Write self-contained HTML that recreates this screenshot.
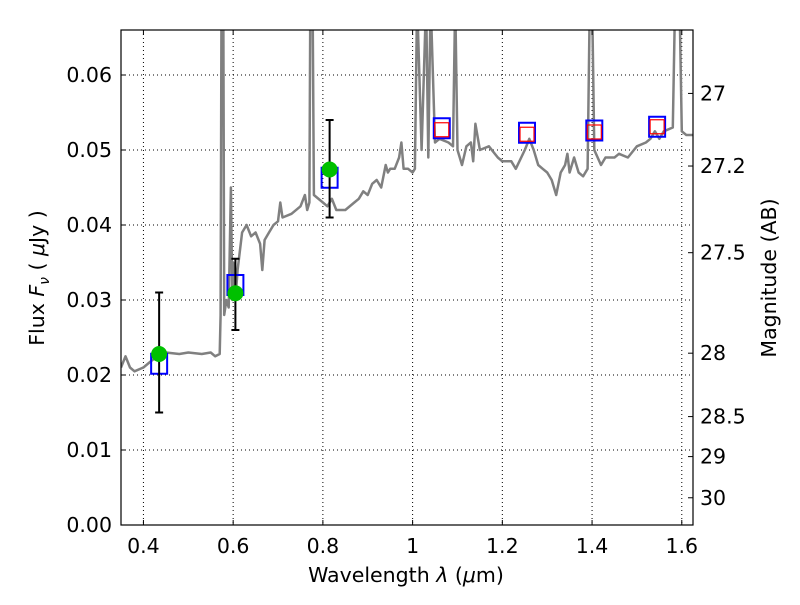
<!DOCTYPE html>
<html><head><meta charset="utf-8"><style>
body{margin:0;background:#fff;}
svg text{font-family:"DejaVu Sans","Liberation Sans",sans-serif;font-size:20.5px;fill:#000;}
</style></head><body>
<svg id="chart" width="800" height="600" xmlns="http://www.w3.org/2000/svg">
<defs><clipPath id="clip"><rect x="121" y="30" width="572" height="495"/></clipPath></defs>
<g id="grid"></g>
<g id="spec" clip-path="url(#clip)"></g>
<g id="marks" clip-path="url(#clip)"></g>
<rect x="121" y="30" width="572" height="495" fill="none" stroke="#000" stroke-width="1.2"/>
<g id="axes"></g>
<text x="406" y="582" text-anchor="middle">Wavelength  <tspan font-style="italic">λ</tspan> (<tspan font-style="italic">μ</tspan>m)</text>
<text transform="translate(44,278) rotate(-90)" text-anchor="middle">Flux  <tspan font-style="italic">F</tspan><tspan font-style="italic" font-size="14" dy="5">ν</tspan><tspan dy="-5">  (  </tspan><tspan font-style="italic">μ</tspan>Jy )</text>
<text transform="translate(776,278) rotate(-90)" text-anchor="middle">Magnitude (AB)</text>
</svg>
<script>
const xTicks=[0.4,0.6,0.8,1.0,1.2,1.4,1.6];
const xTickLabels=["0.4","0.6","0.8","1","1.2","1.4","1.6"];
const yTicks=[0,0.01,0.02,0.03,0.04,0.05,0.06];
const yTickLabels=["0.00","0.01","0.02","0.03","0.04","0.05","0.06"];
const magTicks=[27,27.2,27.5,28,28.5,29,30];
const magTickLabels=["27","27.2","27.5","28","28.5","29","30"];
const specWave=[0.35,0.36,0.37,0.38,0.40,0.42,0.45,0.48,0.50,0.53,0.55,0.56,0.57,0.572,0.574,0.578,0.58,0.585,0.59,0.595,0.598,0.6,0.605,0.61,0.62,0.63,0.64,0.65,0.66,0.665,0.67,0.68,0.69,0.70,0.705,0.71,0.73,0.75,0.76,0.765,0.77,0.772,0.777,0.78,0.80,0.81,0.82,0.83,0.85,0.87,0.88,0.89,0.90,0.91,0.92,0.93,0.94,0.945,0.95,0.96,0.97,0.975,0.98,0.99,1.0,1.005,1.01,1.02,1.03,1.035,1.04,1.05,1.06,1.08,1.09,1.095,1.10,1.11,1.12,1.13,1.135,1.14,1.15,1.17,1.19,1.20,1.22,1.23,1.25,1.26,1.27,1.28,1.29,1.30,1.31,1.32,1.33,1.335,1.34,1.345,1.35,1.36,1.37,1.38,1.39,1.395,1.40,1.405,1.42,1.43,1.45,1.46,1.48,1.50,1.52,1.53,1.54,1.55,1.56,1.58,1.585,1.595,1.60,1.61,1.625];
const specFlux=[0.021,0.0225,0.021,0.0205,0.021,0.022,0.023,0.0228,0.023,0.0228,0.023,0.0225,0.0228,0.028,0.07,0.07,0.028,0.03,0.029,0.045,0.03,0.035,0.03,0.034,0.039,0.040,0.0385,0.039,0.0375,0.034,0.038,0.039,0.040,0.0405,0.043,0.041,0.0415,0.0425,0.044,0.042,0.043,0.07,0.07,0.044,0.043,0.0425,0.0435,0.042,0.042,0.043,0.0435,0.0445,0.044,0.0455,0.046,0.045,0.048,0.047,0.0475,0.0475,0.049,0.051,0.0475,0.0475,0.047,0.0475,0.07,0.05,0.07,0.049,0.07,0.051,0.0515,0.051,0.0505,0.07,0.05,0.048,0.0505,0.051,0.0485,0.0535,0.050,0.0505,0.049,0.0485,0.0485,0.0475,0.050,0.0515,0.050,0.048,0.0475,0.047,0.046,0.044,0.047,0.0475,0.048,0.0495,0.047,0.049,0.047,0.0465,0.0475,0.07,0.07,0.05,0.048,0.049,0.049,0.0495,0.049,0.0505,0.051,0.0515,0.0525,0.0515,0.0525,0.053,0.07,0.07,0.0525,0.052,0.052];
const obsWave=[0.435,0.605,0.815];
const obsFlux=[0.0228,0.0309,0.0474];
const obsLow=[0.015,0.026,0.041];
const obsHigh=[0.031,0.0355,0.054];
const modelWave=[0.435,0.605,0.815,1.065,1.255,1.405,1.545];
const modelFlux=[0.0215,0.0320,0.0463,0.0529,0.0523,0.0526,0.0531];
const upWave=[1.065,1.255,1.405,1.545];
const upFlux=[0.0527,0.0521,0.0524,0.0531];

const X0=121,X1=693,Y0=525,Y1=30,xmin=0.35,xmax=1.625,ymin=0,ymax=0.066;
const xs=v=>X0+(v-xmin)/(xmax-xmin)*(X1-X0);
const ys=v=>Y0-(v-ymin)/(ymax-ymin)*(Y0-Y1);
const NS="http://www.w3.org/2000/svg";
function mk(tag,parent,attrs){const e=document.createElementNS(NS,tag);for(const k in attrs)e.setAttribute(k,attrs[k]);parent.appendChild(e);return e;}
const grid=document.getElementById('grid'),axes=document.getElementById('axes'),spec=document.getElementById('spec'),marks=document.getElementById('marks');
xTicks.forEach((t,i)=>{
 const g=mk('line',grid,{x1:xs(t),x2:xs(t),y1:Y1,y2:Y0,stroke:'#000','stroke-dasharray':'1,3','stroke-width':1});
 
 mk('line',axes,{x1:xs(t),x2:xs(t),y1:Y0,y2:Y0-5,stroke:'#000'});
 mk('line',axes,{x1:xs(t),x2:xs(t),y1:Y1,y2:Y1+5,stroke:'#000'});
 const l=mk('text',axes,{x:xs(t),y:Y0+28,'text-anchor':'middle'});l.textContent=xTickLabels[i];
 
});
yTicks.forEach((t,i)=>{
 const g=mk('line',grid,{x1:X0,x2:X1,y1:ys(t),y2:ys(t),stroke:'#000','stroke-dasharray':'1,3','stroke-width':1});
 
 mk('line',axes,{x1:X0,x2:X0+5,y1:ys(t),y2:ys(t),stroke:'#000'});
 const l=mk('text',axes,{x:X0-9,y:ys(t)+7,'text-anchor':'end'});l.textContent=yTickLabels[i];
 
});
magTicks.forEach((m,i)=>{
 const f=Math.pow(10,(23.9-m)/2.5);
 mk('line',axes,{x1:X1,x2:X1-5,y1:ys(f),y2:ys(f),stroke:'#000'});
 const l=mk('text',axes,{x:X1+7,y:ys(f)+7,'text-anchor':'start'});l.textContent=magTickLabels[i];
 
});
const p=mk('path',spec,{d:specWave.map((w,i)=>(i?'L':'M')+xs(w).toFixed(1)+','+ys(specFlux[i]).toFixed(1)).join(''),fill:'none',stroke:'#808080','stroke-width':2.5,'stroke-linejoin':'round'});

modelWave.forEach((w,i)=>{
 const r=mk('rect',marks,{x:xs(w)-8,y:ys(modelFlux[i])-10,width:16,height:20,fill:'none',stroke:'#0000ff','stroke-width':2});
 
});
upWave.forEach((w,i)=>{
 const r=mk('rect',marks,{x:xs(w)-7,y:ys(upFlux[i])-7,width:14,height:14,fill:'none',stroke:'#ff0000','stroke-width':1.2});
 
});
obsWave.forEach((w,i)=>{
 const x=xs(w);
 const e=mk('line',marks,{x1:x,x2:x,y1:ys(obsLow[i]),y2:ys(obsHigh[i]),stroke:'#000','stroke-width':2});
 
 mk('line',marks,{x1:x-4,x2:x+4,y1:ys(obsLow[i]),y2:ys(obsLow[i]),stroke:'#000','stroke-width':2});
 mk('line',marks,{x1:x-4,x2:x+4,y1:ys(obsHigh[i]),y2:ys(obsHigh[i]),stroke:'#000','stroke-width':2});
 const c=mk('circle',marks,{cx:x,cy:ys(obsFlux[i]),r:8,fill:'#00c000'});
 
});
</script>
</body></html>
